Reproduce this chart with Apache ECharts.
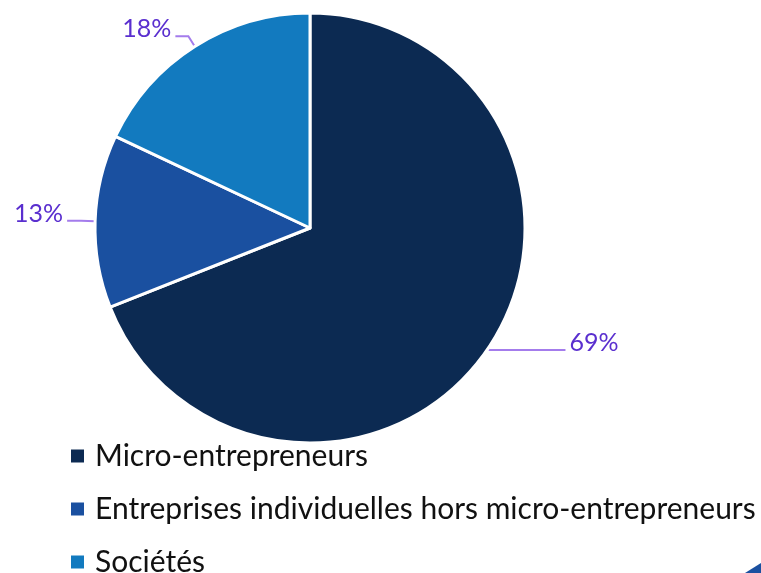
<!DOCTYPE html>
<html>
<head>
<meta charset="utf-8">
<script src="https://cdn.jsdelivr.net/npm/echarts@6/dist/echarts.min.js"></script>
<style>
  html, body { margin: 0; padding: 0; background: #fff; }
  #chart { width: 761px; height: 573px; }
</style>
</head>
<body>
<div id="chart"></div>
<script>
// catégories et parts (%)
const categories = ['Micro-entrepreneurs', 'Entreprises individuelles hors micro-entrepreneurs', 'Sociétés'];
const shares = [69, 13, 18];
const colors = ['#0c2a52', '#1a50a0', '#127abf'];
// longueur des traits de repère par part
const lineLen = [2, 14, 12];
const lineLen2 = [76, 14, 13];

const chart = echarts.init(document.getElementById('chart'));

const pieData = categories.map((name, i) => ({
  name: name,
  value: shares[i],
  itemStyle: { color: colors[i] },
  labelLine: { length: lineLen[i], length2: lineLen2[i] }
}));

chart.setOption({
  animation: false,
  legend: {
    orient: 'vertical',
    left: 71,
    top: 441,
    height: 200,
    padding: 0,
    icon: 'rect',
    itemWidth: 13,
    itemHeight: 13,
    itemGap: 23,
    itemStyle: { borderWidth: 0 },
    textStyle: {
      fontFamily: 'Lato',
      fontSize: 30,
      lineHeight: 29,
      color: '#111',
      padding: [0, 0, 0, 6]
    },
    data: categories
  },
  series: [
    {
      type: 'pie',
      center: [310, 228],
      radius: [0, 215],
      startAngle: 90,
      clockwise: true,
      avoidLabelOverlap: false,
      itemStyle: { borderColor: '#fff', borderWidth: 3 },
      label: {
        show: true,
        // texte posé au-dessus du trait de repère
        formatter: '{t|{c}%}\n{s|}',
        distanceToLabelLine: 4,
        rich: {
          t: { fontFamily: 'Lato', fontSize: 25, lineHeight: 25, color: '#5a2fcf' },
          s: { height: 14, lineHeight: 14 }
        }
      },
      labelLine: {
        show: true,
        lineStyle: { color: '#a47cec', width: 2 }
      },
      data: pieData
    }
  ],
  graphic: [
    {
      type: 'polygon',
      shape: { points: [[745, 573], [761, 563], [761, 573]] },
      style: { fill: '#1a50a0' }
    }
  ]
});
</script>
</body>
</html>
